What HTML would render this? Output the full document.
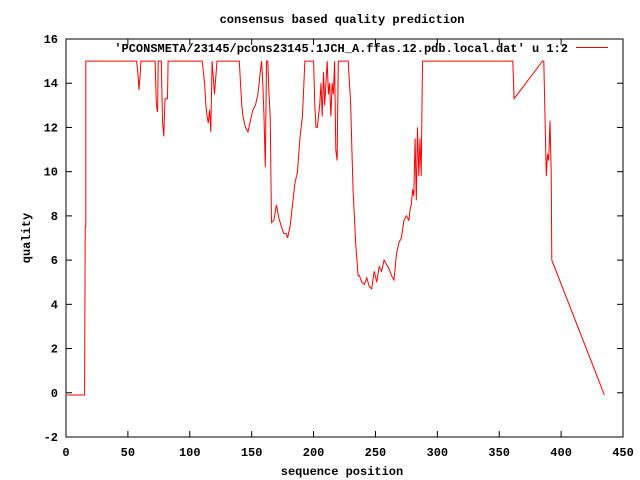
<!DOCTYPE html>
<html><head><meta charset="utf-8"><style>
html,body{margin:0;padding:0;background:#fff;}
svg{display:block;font-family:"Liberation Mono",monospace;font-size:12px;font-weight:bold;}
</style></head><body>
<svg id="chart" width="640" height="480" viewBox="0 0 640 480">
<text x="342" y="23" text-anchor="middle">consensus based quality prediction</text>
<text x="342" y="475" text-anchor="middle">sequence position</text>
<text x="30" y="238" text-anchor="middle" transform="rotate(-90 30 238)">quality</text>
<rect x="66" y="39" width="557" height="398" fill="none" stroke="#000" stroke-width="1"/>
<g id="ticks"></g>
<g>
<text x="568" y="52" text-anchor="end">'PCONSMETA/23145/pcons23145.1JCH_A.ffas.12.pdb.local.dat' u 1:2</text>
<line x1="576" y1="47.5" x2="608" y2="47.5" stroke="#f00" stroke-width="1"/>
</g>
<polyline id="series" fill="none" stroke="#f00" stroke-width="1"/>
</svg>
<script>
const xTicks=[0,50,100,150,200,250,300,350,400,450];
const yTicks=[-2,0,2,4,6,8,10,12,14,16];
const positions=[1,15,15.5,16,16,57,58,59,60,60.5,72,73,74,74.5,77,78,79,80,82,82.5,110,111,112,113,114,115,116,117,118,120,122,140,141,142,143,145,147,149,151,153,155,157,158,159,160,161,162,163,164,165,166,168,170,172,174,176,178,179,181,183,185,187,189,191,193,200,201,202,203,205,206,207,208,209,210,211,212,213,214,215,216,217,218,219,220,228,229,230,231,232,233,234,236,237,239,241,243,245,247,249,251,253,255,257,259,261,263,265,267,269,271,273,275,277,278,279,280,281,282,283,284,285,286,287,288,360,361,362,385,386,387,388,389,390,391,392,392.5,435];
const quality=[-0.1,-0.1,7.5,7.5,15,15,14.5,13.7,14.5,15,15,13,12.7,15,15,12.3,11.6,13.3,13.3,15,15,14.5,14,13,12.5,12.2,12.8,11.8,15,13.5,15,15,14,13,12.5,12,11.8,12.3,12.8,13,13.5,14.5,15,14,12.5,10.2,15,15,13.5,12.5,7.7,7.8,8.5,7.9,7.5,7.2,7.2,7,7.5,8.5,9.5,10,11.5,12.5,15,15,13,12,12,13,14,12.5,14.5,13,14,15,13.5,14,12.5,14,13.5,15,11,10.5,15,15,14,13,11,9,8,6.8,5.3,5.3,5,4.9,5.2,4.8,4.7,5.5,5,5.7,5.5,6,5.8,5.6,5.3,5.1,6.3,6.8,7,7.8,8,7.8,8.3,8.5,9.2,8.9,11.5,8.7,12,9.8,11.5,9.8,15,15,15,13.3,15,15,12.5,9.8,10.8,10.5,12.3,10,6,-0.1,-0.1];
const X0=66,X1=623,Y0=437,Y1=39;
function sx(v){return X0+(v-0)/(450-0)*(X1-X0);}
function sy(v){return Y0-(v+2)/(16+2)*(Y0-Y1);}
const NS='http://www.w3.org/2000/svg';
const g=document.getElementById('ticks');
xTicks.forEach(t=>{
  const x=sx(t);
  const a=document.createElementNS(NS,'line');
  a.setAttribute('x1',x);a.setAttribute('x2',x);a.setAttribute('y1',Y0);a.setAttribute('y2',Y0-6);a.setAttribute('stroke','#000');
  
  
  g.appendChild(a);
  const b=document.createElementNS(NS,'line');
  b.setAttribute('x1',x);b.setAttribute('x2',x);b.setAttribute('y1',Y1);b.setAttribute('y2',Y1+6);b.setAttribute('stroke','#000');
  
  
  g.appendChild(b);
  const tx=document.createElementNS(NS,'text');
  tx.setAttribute('x',x);tx.setAttribute('y',456);tx.setAttribute('text-anchor','middle');tx.textContent=t;
  
  
  g.appendChild(tx);
});
yTicks.forEach(t=>{
  const y=sy(t);
  const a=document.createElementNS(NS,'line');
  a.setAttribute('x1',X0);a.setAttribute('x2',X0+6);a.setAttribute('y1',y);a.setAttribute('y2',y);a.setAttribute('stroke','#000');
  
  
  g.appendChild(a);
  const b=document.createElementNS(NS,'line');
  b.setAttribute('x1',X1);b.setAttribute('x2',X1-6);b.setAttribute('y1',y);b.setAttribute('y2',y);b.setAttribute('stroke','#000');
  
  
  g.appendChild(b);
  const tx=document.createElementNS(NS,'text');
  tx.setAttribute('x',58);tx.setAttribute('y',y+4);tx.setAttribute('text-anchor','end');tx.textContent=t;
  
  
  g.appendChild(tx);
});
document.getElementById('series').setAttribute('points',positions.map((p,i)=>sx(p).toFixed(1)+','+sy(quality[i]).toFixed(1)).join(' '));
</script>
</body></html>
